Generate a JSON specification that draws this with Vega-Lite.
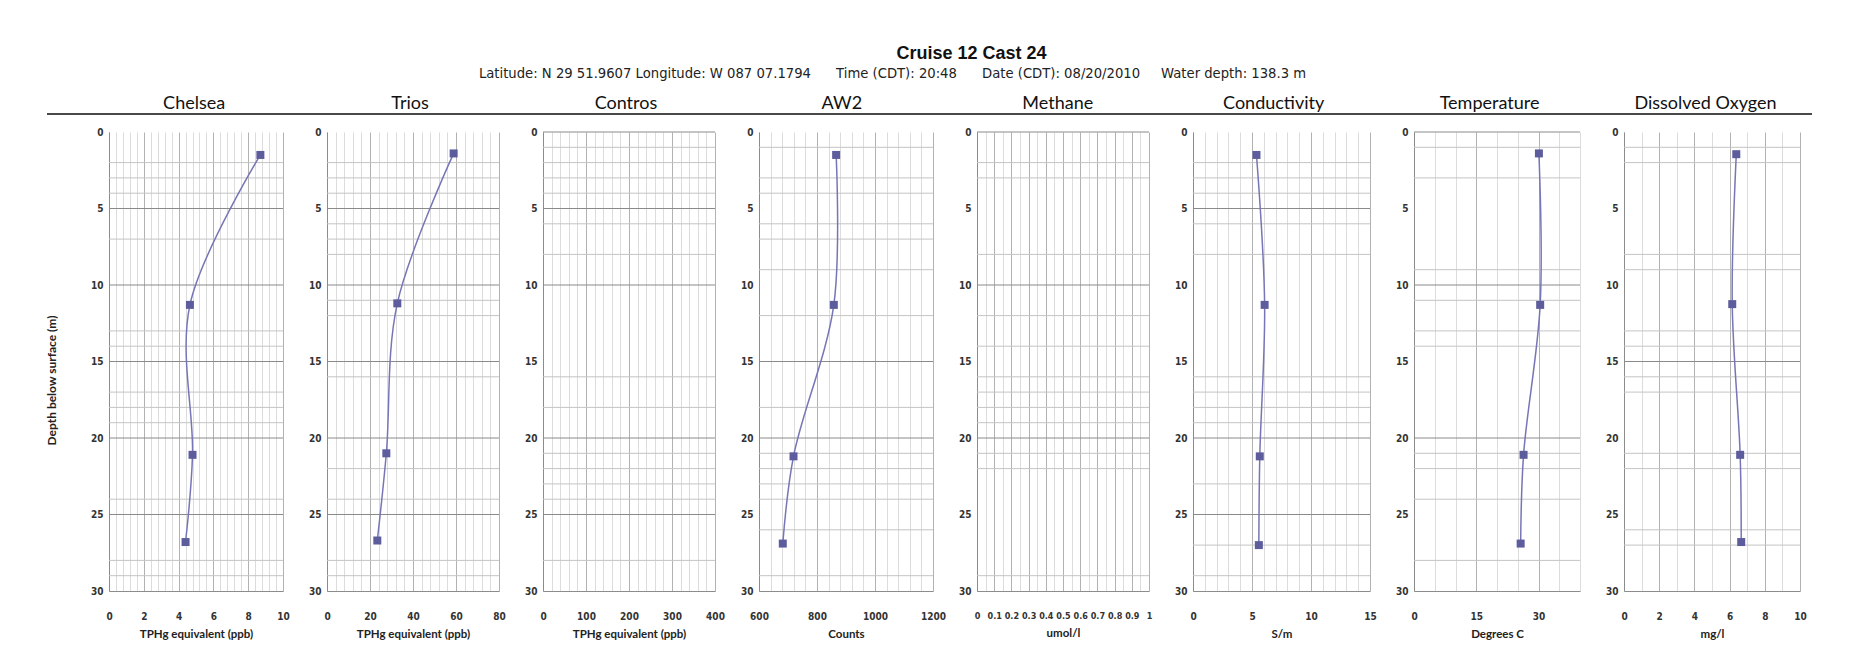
{
  "$schema": "https://vega.github.io/schema/vega-lite/v6.json",
  "background": "white",
  "padding": {"left": 45, "top": 44, "right": 40, "bottom": 10},
  "title": {
    "text": "Cruise 12 Cast 24",
    "font": "Liberation Sans", "fontSize": 18, "fontWeight": "bold", "color": "#111111",
    "anchor": "middle", "offset": 4, "dx": 42.5
  },
  "datasets": {
    "panels": [
      {"panel": "Chelsea"}, {"panel": "Trios"}, {"panel": "Contros"}, {"panel": "AW2"},
      {"panel": "Methane"}, {"panel": "Conductivity"}, {"panel": "Temperature"}, {"panel": "Dissolved Oxygen"}
    ],
    "profiles": [
      {"panel": "Chelsea", "depth": 1.5, "value": 8.7},
      {"panel": "Chelsea", "depth": 11.3, "value": 4.65},
      {"panel": "Chelsea", "depth": 21.1, "value": 4.8},
      {"panel": "Chelsea", "depth": 26.8, "value": 4.4},
      {"panel": "Trios", "depth": 1.4, "value": 58.9},
      {"panel": "Trios", "depth": 11.2, "value": 32.7},
      {"panel": "Trios", "depth": 21.0, "value": 27.6},
      {"panel": "Trios", "depth": 26.7, "value": 23.4},
      {"panel": "AW2", "depth": 1.5, "value": 866},
      {"panel": "AW2", "depth": 11.3, "value": 858},
      {"panel": "AW2", "depth": 21.2, "value": 719},
      {"panel": "AW2", "depth": 26.9, "value": 682},
      {"panel": "Conductivity", "depth": 1.5, "value": 5.38},
      {"panel": "Conductivity", "depth": 11.3, "value": 6.07},
      {"panel": "Conductivity", "depth": 21.2, "value": 5.66},
      {"panel": "Conductivity", "depth": 27.0, "value": 5.58},
      {"panel": "Temperature", "depth": 1.4, "value": 30.1},
      {"panel": "Temperature", "depth": 11.3, "value": 30.4},
      {"panel": "Temperature", "depth": 21.1, "value": 26.4},
      {"panel": "Temperature", "depth": 26.9, "value": 25.7},
      {"panel": "Dissolved Oxygen", "depth": 1.45, "value": 6.38},
      {"panel": "Dissolved Oxygen", "depth": 11.25, "value": 6.15},
      {"panel": "Dissolved Oxygen", "depth": 21.1, "value": 6.6},
      {"panel": "Dissolved Oxygen", "depth": 26.8, "value": 6.66}
    ],
    "hlines": [
      {"panel": "Chelsea", "depth": 5, "kind": "major"}, {"panel": "Chelsea", "depth": 10, "kind": "major"},
      {"panel": "Chelsea", "depth": 15, "kind": "major"}, {"panel": "Chelsea", "depth": 20, "kind": "major"},
      {"panel": "Chelsea", "depth": 25, "kind": "major"},
      {"panel": "Chelsea", "depth": 2, "kind": "minor"}, {"panel": "Chelsea", "depth": 3, "kind": "minor"},
      {"panel": "Chelsea", "depth": 4, "kind": "minor"}, {"panel": "Chelsea", "depth": 7, "kind": "minor"},
      {"panel": "Chelsea", "depth": 13, "kind": "minor"}, {"panel": "Chelsea", "depth": 14, "kind": "minor"},
      {"panel": "Chelsea", "depth": 17, "kind": "minor"}, {"panel": "Chelsea", "depth": 18, "kind": "minor"},
      {"panel": "Chelsea", "depth": 19, "kind": "minor"}, {"panel": "Chelsea", "depth": 24, "kind": "minor"},
      {"panel": "Chelsea", "depth": 28, "kind": "minor"}, {"panel": "Chelsea", "depth": 29, "kind": "minor"},

      {"panel": "Trios", "depth": 5, "kind": "major"}, {"panel": "Trios", "depth": 10, "kind": "major"},
      {"panel": "Trios", "depth": 15, "kind": "major"}, {"panel": "Trios", "depth": 20, "kind": "major"},
      {"panel": "Trios", "depth": 25, "kind": "major"},
      {"panel": "Trios", "depth": 2, "kind": "minor"}, {"panel": "Trios", "depth": 3, "kind": "minor"},
      {"panel": "Trios", "depth": 4, "kind": "minor"}, {"panel": "Trios", "depth": 6, "kind": "minor"},
      {"panel": "Trios", "depth": 7, "kind": "minor"}, {"panel": "Trios", "depth": 8, "kind": "minor"},
      {"panel": "Trios", "depth": 11, "kind": "minor"}, {"panel": "Trios", "depth": 12, "kind": "minor"},
      {"panel": "Trios", "depth": 16, "kind": "minor"}, {"panel": "Trios", "depth": 22, "kind": "minor"},
      {"panel": "Trios", "depth": 24, "kind": "minor"}, {"panel": "Trios", "depth": 28, "kind": "minor"},
      {"panel": "Trios", "depth": 29, "kind": "minor"},

      {"panel": "Contros", "depth": 0, "kind": "major"}, {"panel": "Contros", "depth": 5, "kind": "major"},
      {"panel": "Contros", "depth": 10, "kind": "major"}, {"panel": "Contros", "depth": 20, "kind": "major"},
      {"panel": "Contros", "depth": 25, "kind": "major"},
      {"panel": "Contros", "depth": 1, "kind": "minor"}, {"panel": "Contros", "depth": 2, "kind": "minor"},
      {"panel": "Contros", "depth": 3, "kind": "minor"}, {"panel": "Contros", "depth": 4, "kind": "minor"},
      {"panel": "Contros", "depth": 6, "kind": "minor"}, {"panel": "Contros", "depth": 8, "kind": "minor"},
      {"panel": "Contros", "depth": 16, "kind": "minor"}, {"panel": "Contros", "depth": 18, "kind": "minor"},
      {"panel": "Contros", "depth": 21, "kind": "minor"}, {"panel": "Contros", "depth": 22, "kind": "minor"},
      {"panel": "Contros", "depth": 23, "kind": "minor"}, {"panel": "Contros", "depth": 24, "kind": "minor"},
      {"panel": "Contros", "depth": 28, "kind": "minor"},

      {"panel": "AW2", "depth": 15, "kind": "major"}, {"panel": "AW2", "depth": 20, "kind": "major"},
      {"panel": "AW2", "depth": 1, "kind": "minor"}, {"panel": "AW2", "depth": 3, "kind": "minor"},
      {"panel": "AW2", "depth": 4, "kind": "minor"}, {"panel": "AW2", "depth": 6, "kind": "minor"},
      {"panel": "AW2", "depth": 7, "kind": "minor"}, {"panel": "AW2", "depth": 9, "kind": "minor"},
      {"panel": "AW2", "depth": 12, "kind": "minor"}, {"panel": "AW2", "depth": 18, "kind": "minor"},
      {"panel": "AW2", "depth": 21, "kind": "minor"}, {"panel": "AW2", "depth": 22, "kind": "minor"},
      {"panel": "AW2", "depth": 23, "kind": "minor"}, {"panel": "AW2", "depth": 24, "kind": "minor"},
      {"panel": "AW2", "depth": 26, "kind": "minor"}, {"panel": "AW2", "depth": 29, "kind": "minor"},

      {"panel": "Methane", "depth": 0, "kind": "major"}, {"panel": "Methane", "depth": 10, "kind": "major"},
      {"panel": "Methane", "depth": 20, "kind": "major"},
      {"panel": "Methane", "depth": 2, "kind": "minor"}, {"panel": "Methane", "depth": 3, "kind": "minor"},
      {"panel": "Methane", "depth": 8, "kind": "minor"}, {"panel": "Methane", "depth": 12, "kind": "minor"},
      {"panel": "Methane", "depth": 14, "kind": "minor"}, {"panel": "Methane", "depth": 16, "kind": "minor"},
      {"panel": "Methane", "depth": 17, "kind": "minor"}, {"panel": "Methane", "depth": 18, "kind": "minor"},
      {"panel": "Methane", "depth": 19, "kind": "minor"}, {"panel": "Methane", "depth": 21, "kind": "minor"},
      {"panel": "Methane", "depth": 22, "kind": "minor"}, {"panel": "Methane", "depth": 29, "kind": "minor"},

      {"panel": "Conductivity", "depth": 5, "kind": "major"}, {"panel": "Conductivity", "depth": 20, "kind": "major"},
      {"panel": "Conductivity", "depth": 25, "kind": "major"},
      {"panel": "Conductivity", "depth": 2, "kind": "minor"}, {"panel": "Conductivity", "depth": 3, "kind": "minor"},
      {"panel": "Conductivity", "depth": 4, "kind": "minor"}, {"panel": "Conductivity", "depth": 6, "kind": "minor"},
      {"panel": "Conductivity", "depth": 8, "kind": "minor"}, {"panel": "Conductivity", "depth": 16, "kind": "minor"},
      {"panel": "Conductivity", "depth": 17, "kind": "minor"}, {"panel": "Conductivity", "depth": 18, "kind": "minor"},
      {"panel": "Conductivity", "depth": 19, "kind": "minor"}, {"panel": "Conductivity", "depth": 23, "kind": "minor"},
      {"panel": "Conductivity", "depth": 27, "kind": "minor"}, {"panel": "Conductivity", "depth": 29, "kind": "minor"},

      {"panel": "Temperature", "depth": 0, "kind": "major"}, {"panel": "Temperature", "depth": 10, "kind": "major"},
      {"panel": "Temperature", "depth": 20, "kind": "major"},
      {"panel": "Temperature", "depth": 1, "kind": "minor"}, {"panel": "Temperature", "depth": 3, "kind": "minor"},
      {"panel": "Temperature", "depth": 9, "kind": "minor"}, {"panel": "Temperature", "depth": 11, "kind": "minor"},
      {"panel": "Temperature", "depth": 13, "kind": "minor"}, {"panel": "Temperature", "depth": 14, "kind": "minor"},
      {"panel": "Temperature", "depth": 21, "kind": "minor"}, {"panel": "Temperature", "depth": 22, "kind": "minor"},
      {"panel": "Temperature", "depth": 24, "kind": "minor"}, {"panel": "Temperature", "depth": 28, "kind": "minor"},

      {"panel": "Dissolved Oxygen", "depth": 15, "kind": "major"},
      {"panel": "Dissolved Oxygen", "depth": 1, "kind": "minor"}, {"panel": "Dissolved Oxygen", "depth": 2, "kind": "minor"},
      {"panel": "Dissolved Oxygen", "depth": 8, "kind": "minor"}, {"panel": "Dissolved Oxygen", "depth": 9, "kind": "minor"},
      {"panel": "Dissolved Oxygen", "depth": 13, "kind": "minor"}, {"panel": "Dissolved Oxygen", "depth": 14, "kind": "minor"},
      {"panel": "Dissolved Oxygen", "depth": 16, "kind": "minor"}, {"panel": "Dissolved Oxygen", "depth": 17, "kind": "minor"},
      {"panel": "Dissolved Oxygen", "depth": 21, "kind": "minor"}, {"panel": "Dissolved Oxygen", "depth": 22, "kind": "minor"},
      {"panel": "Dissolved Oxygen", "depth": 26, "kind": "minor"}, {"panel": "Dissolved Oxygen", "depth": 27, "kind": "minor"}
    ]
  },
  "columns": 1,
  "spacing": 12,
  "concat": [
    {
      "width": 1765,
      "height": 21,
      "title": {
        "text": "Latitude: N 29 51.9607 Longitude: W 087 07.1794\u00a0\u00a0\u00a0\u00a0\u00a0\u00a0Time (CDT): 20:48\u00a0\u00a0\u00a0\u00a0\u00a0\u00a0Date (CDT): 08/20/2010\u00a0\u00a0\u00a0\u00a0\u00a0Water depth: 138.3 m",
        "font": "DejaVu Sans", "fontSize": 13.2, "fontWeight": "normal", "color": "#222222",
        "anchor": "middle", "frame": "group", "dx": -37, "offset": 12
      },
      "data": {"name": "panels"},
      "layer": [
        {
          "mark": {"type": "text", "font": "Lato", "fontSize": 18, "color": "#111111", "baseline": "middle"},
          "encoding": {
            "x": {"field": "panel", "type": "nominal", "sort": null,
                  "scale": {"type": "point", "padding": 0.5875, "align": 0.58}, "axis": null},
            "text": {"field": "panel"}
          }
        },
        {
          "mark": {"type": "rule", "color": "#4a4a4a", "strokeWidth": 1.3},
          "encoding": {"y": {"datum": 0, "type": "quantitative", "scale": {"domain": [0, 1]}, "axis": null}}
        }
      ]
    },
    {
      "bounds": "flush",
      "spacing": 44,
      "hconcat": [
        {
          "width": 18, "height": 459,
          "data": {"values": [{"blank": ""}]},
          "mark": {"type": "text"},
          "encoding": {"text": {"field": "blank"}}
        },
        {
          "width": 174, "height": 459,
          "layer": [
            {"data": {"name": "hlines"}, "transform": [{"filter": "datum.panel === 'Chelsea'"}],
             "mark": {"type": "rule", "strokeWidth": 1},
             "encoding": {
               "y": {"field": "depth", "type": "quantitative", "scale": {"domain": [0, 30], "reverse": true, "nice": false},
                     "axis": {"values": [0, 5, 10, 15, 20, 25, 30], "title": "Depth below surface (m)", "titleFontSize": 12, "titlePadding": 32, "titleY": 248}},
               "color": {"field": "kind", "type": "nominal", "scale": {"domain": ["major", "minor"], "range": ["#8a8a8a", "#c4c4c4"]}, "legend": null}}},
            {"data": {"name": "profiles"}, "transform": [{"filter": "datum.panel === 'Chelsea'"}],
             "mark": {"type": "line", "interpolate": "catmull-rom", "color": "#7676b6", "strokeWidth": 1.5,
                      "point": {"shape": "square", "filled": true, "size": 64, "color": "#5d5d9d", "opacity": 1}},
             "encoding": {
               "x": {"field": "value", "type": "quantitative", "scale": {"domain": [0, 10], "nice": false},
                     "axis": {"title": "TPHg equivalent (ppb)", "labelOverlap": false,
                              "values": [0,0.4,0.8,1.2,1.6,2,2.4,2.8,3.2,3.6,4,4.4,4.8,5.2,5.6,6,6.4,6.8,7.2,7.6,8,8.4,8.8,9.2,9.6,10],
                              "gridColor": {"condition": {"test": "abs(datum.value/2 - round(datum.value/2)) < 1e-6", "value": "#b2b2b2"}, "value": "#dcdcdc"},
                              "labelExpr": "abs(datum.value/2 - round(datum.value/2)) < 1e-6 ? format(datum.value, '~g') : ''"}},
               "y": {"field": "depth", "type": "quantitative"},
               "order": {"field": "depth"}}}
          ]
        },
        {
          "width": 172, "height": 459,
          "layer": [
            {"data": {"name": "hlines"}, "transform": [{"filter": "datum.panel === 'Trios'"}],
             "mark": {"type": "rule", "strokeWidth": 1},
             "encoding": {
               "y": {"field": "depth", "type": "quantitative", "scale": {"domain": [0, 30], "reverse": true, "nice": false},
                     "axis": {"values": [0, 5, 10, 15, 20, 25, 30], "title": null}},
               "color": {"field": "kind", "type": "nominal", "scale": {"domain": ["major", "minor"], "range": ["#8a8a8a", "#c4c4c4"]}, "legend": null}}},
            {"data": {"name": "profiles"}, "transform": [{"filter": "datum.panel === 'Trios'"}],
             "mark": {"type": "line", "interpolate": "catmull-rom", "color": "#7676b6", "strokeWidth": 1.5,
                      "point": {"shape": "square", "filled": true, "size": 64, "color": "#5d5d9d", "opacity": 1}},
             "encoding": {
               "x": {"field": "value", "type": "quantitative", "scale": {"domain": [0, 80], "nice": false},
                     "axis": {"title": "TPHg equivalent (ppb)", "labelOverlap": false,
                              "values": [0,4,8,12,16,20,24,28,32,36,40,44,48,52,56,60,64,68,72,76,80],
                              "gridColor": {"condition": {"test": "datum.value % 20 === 0", "value": "#b2b2b2"}, "value": "#dcdcdc"},
                              "labelExpr": "datum.value % 20 === 0 ? format(datum.value, '~g') : ''"}},
               "y": {"field": "depth", "type": "quantitative"},
               "order": {"field": "depth"}}}
          ]
        },
        {
          "width": 172, "height": 459,
          "layer": [
            {"data": {"name": "hlines"}, "transform": [{"filter": "datum.panel === 'Contros'"}],
             "mark": {"type": "rule", "strokeWidth": 1},
             "encoding": {
               "y": {"field": "depth", "type": "quantitative", "scale": {"domain": [0, 30], "reverse": true, "nice": false},
                     "axis": {"values": [0, 5, 10, 15, 20, 25, 30], "title": null}},
               "color": {"field": "kind", "type": "nominal", "scale": {"domain": ["major", "minor"], "range": ["#8a8a8a", "#c4c4c4"]}, "legend": null}}},
            {"data": {"name": "profiles"}, "transform": [{"filter": "datum.panel === 'Contros'"}],
             "mark": {"type": "line", "interpolate": "catmull-rom", "color": "#7676b6", "strokeWidth": 1.5},
             "encoding": {
               "x": {"field": "value", "type": "quantitative", "scale": {"domain": [0, 400], "nice": false},
                     "axis": {"title": "TPHg equivalent (ppb)", "labelOverlap": false,
                              "values": [0,20,40,60,80,100,120,140,160,180,200,220,240,260,280,300,320,340,360,380,400],
                              "gridColor": {"condition": {"test": "datum.value % 100 === 0", "value": "#b2b2b2"}, "value": "#dcdcdc"},
                              "labelExpr": "datum.value % 100 === 0 ? format(datum.value, '~g') : ''"}},
               "y": {"field": "depth", "type": "quantitative"},
               "order": {"field": "depth"}}}
          ]
        },
        {
          "width": 174, "height": 459,
          "layer": [
            {"data": {"name": "hlines"}, "transform": [{"filter": "datum.panel === 'AW2'"}],
             "mark": {"type": "rule", "strokeWidth": 1},
             "encoding": {
               "y": {"field": "depth", "type": "quantitative", "scale": {"domain": [0, 30], "reverse": true, "nice": false},
                     "axis": {"values": [0, 5, 10, 15, 20, 25, 30], "title": null}},
               "color": {"field": "kind", "type": "nominal", "scale": {"domain": ["major", "minor"], "range": ["#8a8a8a", "#c4c4c4"]}, "legend": null}}},
            {"data": {"name": "profiles"}, "transform": [{"filter": "datum.panel === 'AW2'"}],
             "mark": {"type": "line", "interpolate": "catmull-rom", "color": "#7676b6", "strokeWidth": 1.5,
                      "point": {"shape": "square", "filled": true, "size": 64, "color": "#5d5d9d", "opacity": 1}},
             "encoding": {
               "x": {"field": "value", "type": "quantitative", "scale": {"domain": [600, 1200], "nice": false, "zero": false},
                     "axis": {"title": "Counts", "labelOverlap": false,
                              "values": [600,640,680,720,760,800,840,880,920,960,1000,1040,1080,1120,1160,1200],
                              "gridColor": {"condition": {"test": "datum.value % 200 === 0", "value": "#b2b2b2"}, "value": "#dcdcdc"},
                              "labelExpr": "datum.value % 200 === 0 ? format(datum.value, '~g') : ''"}},
               "y": {"field": "depth", "type": "quantitative"},
               "order": {"field": "depth"}}}
          ]
        },
        {
          "width": 172, "height": 459,
          "layer": [
            {"data": {"name": "hlines"}, "transform": [{"filter": "datum.panel === 'Methane'"}],
             "mark": {"type": "rule", "strokeWidth": 1},
             "encoding": {
               "y": {"field": "depth", "type": "quantitative", "scale": {"domain": [0, 30], "reverse": true, "nice": false},
                     "axis": {"values": [0, 5, 10, 15, 20, 25, 30], "title": null}},
               "color": {"field": "kind", "type": "nominal", "scale": {"domain": ["major", "minor"], "range": ["#8a8a8a", "#c4c4c4"]}, "legend": null}}},
            {"data": {"name": "profiles"}, "transform": [{"filter": "datum.panel === 'Methane'"}],
             "mark": {"type": "line", "interpolate": "catmull-rom", "color": "#7676b6", "strokeWidth": 1.5},
             "encoding": {
               "x": {"field": "value", "type": "quantitative", "scale": {"domain": [0, 1], "nice": false},
                     "axis": {"title": "umol/l", "labelOverlap": false, "labelFontSize": 9,
                              "values": [0,0.05,0.1,0.15,0.2,0.25,0.3,0.35,0.4,0.45,0.5,0.55,0.6,0.65,0.7,0.75,0.8,0.85,0.9,0.95,1],
                              "gridColor": {"condition": {"test": "abs(datum.value*10 - round(datum.value*10)) < 1e-6", "value": "#b2b2b2"}, "value": "#dcdcdc"},
                              "labelExpr": "abs(datum.value*10 - round(datum.value*10)) < 1e-6 ? format(datum.value, '~g') : ''"}},
               "y": {"field": "depth", "type": "quantitative"},
               "order": {"field": "depth"}}}
          ]
        },
        {
          "width": 177, "height": 459,
          "layer": [
            {"data": {"name": "hlines"}, "transform": [{"filter": "datum.panel === 'Conductivity'"}],
             "mark": {"type": "rule", "strokeWidth": 1},
             "encoding": {
               "y": {"field": "depth", "type": "quantitative", "scale": {"domain": [0, 30], "reverse": true, "nice": false},
                     "axis": {"values": [0, 5, 10, 15, 20, 25, 30], "title": null}},
               "color": {"field": "kind", "type": "nominal", "scale": {"domain": ["major", "minor"], "range": ["#8a8a8a", "#c4c4c4"]}, "legend": null}}},
            {"data": {"name": "profiles"}, "transform": [{"filter": "datum.panel === 'Conductivity'"}],
             "mark": {"type": "line", "interpolate": "catmull-rom", "color": "#7676b6", "strokeWidth": 1.5,
                      "point": {"shape": "square", "filled": true, "size": 64, "color": "#5d5d9d", "opacity": 1}},
             "encoding": {
               "x": {"field": "value", "type": "quantitative", "scale": {"domain": [0, 15], "nice": false},
                     "axis": {"title": "S/m", "labelOverlap": false,
                              "values": [0,1,2,3,4,5,6,7,8,9,10,11,12,13,14,15],
                              "gridColor": {"condition": {"test": "datum.value % 5 === 0", "value": "#b2b2b2"}, "value": "#dcdcdc"},
                              "labelExpr": "datum.value % 5 === 0 ? format(datum.value, '~g') : ''"}},
               "y": {"field": "depth", "type": "quantitative"},
               "order": {"field": "depth"}}}
          ]
        },
        {
          "width": 166, "height": 459,
          "layer": [
            {"data": {"name": "hlines"}, "transform": [{"filter": "datum.panel === 'Temperature'"}],
             "mark": {"type": "rule", "strokeWidth": 1},
             "encoding": {
               "y": {"field": "depth", "type": "quantitative", "scale": {"domain": [0, 30], "reverse": true, "nice": false},
                     "axis": {"values": [0, 5, 10, 15, 20, 25, 30], "title": null}},
               "color": {"field": "kind", "type": "nominal", "scale": {"domain": ["major", "minor"], "range": ["#8a8a8a", "#c4c4c4"]}, "legend": null}}},
            {"data": {"name": "profiles"}, "transform": [{"filter": "datum.panel === 'Temperature'"}],
             "mark": {"type": "line", "interpolate": "catmull-rom", "color": "#7676b6", "strokeWidth": 1.5,
                      "point": {"shape": "square", "filled": true, "size": 64, "color": "#5d5d9d", "opacity": 1}},
             "encoding": {
               "x": {"field": "value", "type": "quantitative", "scale": {"domain": [0, 40], "nice": false},
                     "axis": {"title": "Degrees C", "labelOverlap": false,
                              "values": [0,5,10,15,20,25,30,35,40],
                              "gridColor": {"condition": {"test": "datum.value % 15 === 0", "value": "#b2b2b2"}, "value": "#dcdcdc"},
                              "labelExpr": "datum.value % 15 === 0 ? format(datum.value, '~g') : ''"}},
               "y": {"field": "depth", "type": "quantitative"},
               "order": {"field": "depth"}}}
          ]
        },
        {
          "width": 176, "height": 459,
          "layer": [
            {"data": {"name": "hlines"}, "transform": [{"filter": "datum.panel === 'Dissolved Oxygen'"}],
             "mark": {"type": "rule", "strokeWidth": 1},
             "encoding": {
               "y": {"field": "depth", "type": "quantitative", "scale": {"domain": [0, 30], "reverse": true, "nice": false},
                     "axis": {"values": [0, 5, 10, 15, 20, 25, 30], "title": null}},
               "color": {"field": "kind", "type": "nominal", "scale": {"domain": ["major", "minor"], "range": ["#8a8a8a", "#c4c4c4"]}, "legend": null}}},
            {"data": {"name": "profiles"}, "transform": [{"filter": "datum.panel === 'Dissolved Oxygen'"}],
             "mark": {"type": "line", "interpolate": "catmull-rom", "color": "#7676b6", "strokeWidth": 1.5,
                      "point": {"shape": "square", "filled": true, "size": 64, "color": "#5d5d9d", "opacity": 1}},
             "encoding": {
               "x": {"field": "value", "type": "quantitative", "scale": {"domain": [0, 10], "nice": false},
                     "axis": {"title": "mg/l", "labelOverlap": false,
                              "values": [0,1,2,3,4,5,6,7,8,9,10],
                              "gridColor": {"condition": {"test": "datum.value % 2 === 0", "value": "#b2b2b2"}, "value": "#dcdcdc"},
                              "labelExpr": "datum.value % 2 === 0 ? format(datum.value, '~g') : ''"}},
               "y": {"field": "depth", "type": "quantitative"},
               "order": {"field": "depth"}}}
          ]
        }
      ]
    }
  ],
  "config": {
    "view": {"stroke": null},
    "axis": {
      "ticks": false,
      "domainColor": "#8c8c8c",
      "labelFont": "Liberation Sans Narrow, DejaVu Sans Condensed, Liberation Sans",
      "labelFontSize": 10,
      "labelFontWeight": "bold",
      "labelColor": "#333333",
      "titleFont": "Lato",
      "titleFontSize": 11.5,
      "titleFontWeight": "bold",
      "titleColor": "#222222",
      "labelOverlap": false,
      "labelFlush": false
    },
    "axisX": {"labelPadding": 20, "titlePadding": 7, "grid": true, "labelOverlap": false},
    "axisY": {"labelPadding": 6, "grid": false}
  }
}
